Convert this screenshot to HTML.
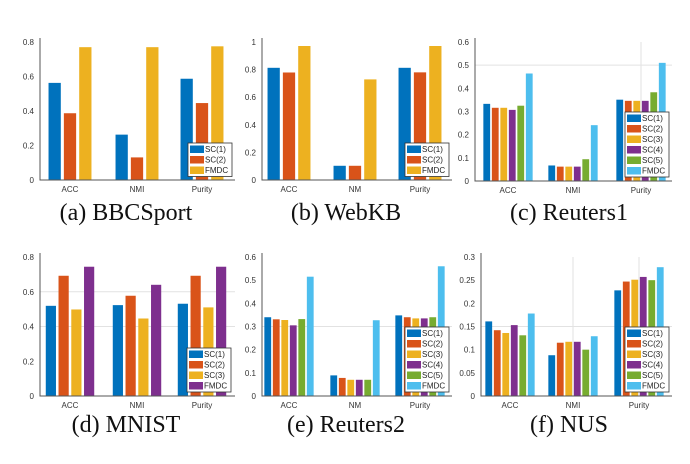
<!DOCTYPE html>
<html><head><meta charset="utf-8"><style>
html,body{margin:0;padding:0;background:#fff;}
svg{display:block;}
</style></head><body>
<svg id="fig" width="690" height="464" viewBox="0 0 690 464" xmlns="http://www.w3.org/2000/svg"></svg>
<script>
const categories = ["ACC", "NMI", "Purity"];
const colors = ["#0072BD","#D95319","#EDB120","#7E2F8E","#77AC30","#4DBEEE"];
// (a) BBCSport
const aNames = ["SC(1)","SC(2)","FMDC"];
const aSC1 = [0.563,0.263,0.587];
const aSC2 = [0.387,0.131,0.446];
const aFMDC = [0.77,0.77,0.775];
const aTicks = [0,0.2,0.4,0.6,0.8];
// (b) WebKB
const bNames = ["SC(1)","SC(2)","FMDC"];
const bSC1 = [0.813,0.103,0.813];
const bSC2 = [0.779,0.103,0.78];
const bFMDC = [0.971,0.729,0.971];
const bTicks = [0,0.2,0.4,0.6,0.8,1];
// (c) Reuters1
const cNames = ["SC(1)","SC(2)","SC(3)","SC(4)","SC(5)","FMDC"];
const cSC1 = [0.333,0.067,0.351];
const cSC2 = [0.316,0.062,0.346];
const cSC3 = [0.316,0.062,0.346];
const cSC4 = [0.307,0.062,0.346];
const cSC5 = [0.325,0.094,0.383];
const cFMDC = [0.464,0.241,0.51];
const cTicks = [0,0.1,0.2,0.3,0.4,0.5,0.6];
// (d) MNIST
const dNames = ["SC(1)","SC(2)","SC(3)","FMDC"];
const dSC1 = [0.519,0.523,0.531];
const dSC2 = [0.692,0.577,0.692];
const dSC3 = [0.498,0.446,0.51];
const dFMDC = [0.744,0.64,0.744];
const dTicks = [0,0.2,0.4,0.6,0.8];
// (e) Reuters2
const eNames = ["SC(1)","SC(2)","SC(3)","SC(4)","SC(5)","FMDC"];
const eSC1 = [0.34,0.089,0.348];
const eSC2 = [0.331,0.078,0.34];
const eSC3 = [0.328,0.07,0.335];
const eSC4 = [0.305,0.07,0.335];
const eSC5 = [0.332,0.07,0.34];
const eFMDC = [0.515,0.327,0.56];
const eTicks = [0,0.1,0.2,0.3,0.4,0.5,0.6];
// (f) NUS
const fNames = ["SC(1)","SC(2)","SC(3)","SC(4)","SC(5)","FMDC"];
const fSC1 = [0.161,0.088,0.228];
const fSC2 = [0.142,0.115,0.247];
const fSC3 = [0.136,0.117,0.251];
const fSC4 = [0.153,0.117,0.257];
const fSC5 = [0.131,0.1,0.25];
const fFMDC = [0.178,0.129,0.278];
const fTicks = [0,0.05,0.1,0.15,0.2,0.25,0.3];

const NS = "http://www.w3.org/2000/svg";
const svg = document.getElementById("fig");
function mk(tag, attrs, parent){
  const e = document.createElementNS(NS, tag);
  for (const k in attrs) e.setAttribute(k, attrs[k]);
  (parent||svg).appendChild(e);
  return e;
}
const panels = [
  {id:"a", title:"(a) BBCSport", series:[aSC1,aSC2,aFMDC], names:aNames, ticks:aTicks, left:40, right:235, y0:180, yTop:42, centers:[70,137,202], leg:[188,143], grid:[], vgrid:[], cap:[126,220]},
  {id:"b", title:"(b) WebKB", series:[bSC1,bSC2,bFMDC], names:bNames, ticks:bTicks, left:262, right:452, y0:180, yTop:42, centers:[289,355,420], leg:[405,143], grid:[], vgrid:[], cap:[346,220]},
  {id:"c", title:"(c) Reuters1", series:[cSC1,cSC2,cSC3,cSC4,cSC5,cFMDC], names:cNames, ticks:cTicks, left:475, right:672, y0:181, yTop:42, centers:[508,573,641], leg:[625,112], grid:[0.5], vgrid:[2], cap:[569,220]},
  {id:"d", title:"(d) MNIST", series:[dSC1,dSC2,dSC3,dFMDC], names:dNames, ticks:dTicks, left:40, right:235, y0:396, yTop:257, centers:[70,137,202], leg:[187,348], grid:[0.6,0.4], vgrid:[], cap:[126,432]},
  {id:"e", title:"(e) Reuters2", series:[eSC1,eSC2,eSC3,eSC4,eSC5,eFMDC], names:eNames, ticks:eTicks, left:262, right:452, y0:396, yTop:257, centers:[289,355,420], leg:[405,327], grid:[0.3], vgrid:[], cap:[346,432]},
  {id:"f", title:"(f) NUS", series:[fSC1,fSC2,fSC3,fSC4,fSC5,fFMDC], names:fNames, ticks:fTicks, left:481, right:672, y0:396, yTop:257, centers:[510,573,639], leg:[625,327], grid:[0.15], vgrid:[1,2], cap:[569,432]}
];
panels.forEach(p=>{
  const g = mk("g",{});
  
  
  const tMax = p.ticks[p.ticks.length-1];
  const yS = v => p.y0 - v/tMax*(p.y0-p.yTop);
  p.grid.forEach(v=>{
    const l = mk("line",{x1:p.left,x2:p.right,y1:yS(v),y2:yS(v),stroke:"#e2e2e2","stroke-width":1},g);
    
    
  });
  p.vgrid.forEach(i=>{
    const l = mk("line",{x1:p.centers[i],x2:p.centers[i],y1:p.yTop,y2:p.y0,stroke:"#e2e2e2","stroke-width":1},g);
    
    
  });
  const n = p.series.length;
  const gw = n===3 ? 46 : 51;
  const slot = gw/n;
  const bw = slot*0.8;
  p.series.forEach((s,si)=>{
    s.forEach((v,ci)=>{
      const x = p.centers[ci] - gw/2 + si*slot + (slot-bw)/2;
      const r = mk("rect",{x:x,y:yS(v),width:bw,height:p.y0-yS(v),fill:colors[n===3&&si===2?2:(n===4&&si===3?3:si)]},g);
      
      
    });
  });
  const ax = mk("path",{d:`M${p.left},${p.yTop-4}V${p.y0}H${p.right}`,fill:"none",stroke:"#555","stroke-width":1},g);
  
  
  p.ticks.forEach(t=>{
    const tx = mk("text",{x:p.left-6,y:yS(t)+3,"font-size":8,"text-anchor":"end",fill:"#333","font-family":"Liberation Sans, sans-serif"},g);
    tx.textContent = String(t);
    
    
  });
  categories.forEach((c,ci)=>{
    const label = (c==="NMI" && (p.id==="b"||p.id==="e")) ? "NM" : c;
    const tx = mk("text",{x:p.centers[ci],y:p.y0+12,"font-size":8,"text-anchor":"middle",fill:"#333","font-family":"Liberation Sans, sans-serif"},g);
    tx.textContent = label;
    
    
  });
  const rowH = 10.5;
  const lg = mk("g",{},g);
  
  
  mk("rect",{x:p.leg[0],y:p.leg[1],width:44,height:n*rowH+2,fill:"#fff",stroke:"#333","stroke-width":0.8},lg);
  p.names.forEach((nm,si)=>{
    const yy = p.leg[1]+1+si*rowH;
    mk("rect",{x:p.leg[0]+2,y:yy+1.5,width:14,height:rowH-3,fill:colors[n===3&&si===2?2:(n===4&&si===3?3:si)]},lg);
    const tx = mk("text",{x:p.leg[0]+17,y:yy+8,"font-size":8,fill:"#222","font-family":"Liberation Sans, sans-serif"},lg);
    tx.textContent = nm;
    
    
  });
  const cap = mk("text",{x:p.cap[0],y:p.cap[1],"font-size":24,"text-anchor":"middle",fill:"#111","font-family":"Liberation Serif, serif"},g);
  cap.textContent = p.title;
  
  
});
</script>
</body></html>
